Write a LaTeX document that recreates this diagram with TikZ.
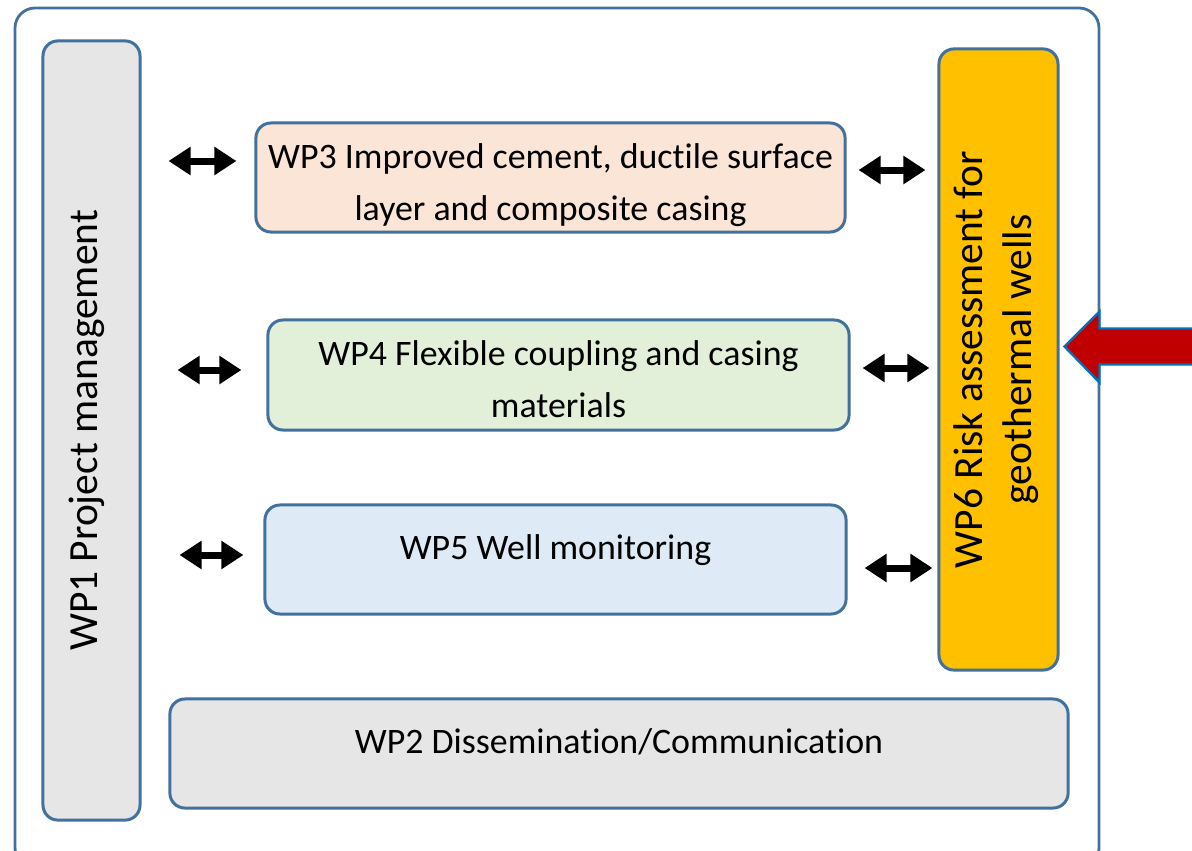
\documentclass[tikz,border=0pt]{standalone}
\usepackage{fontspec}
\setmainfont{Carlito}[Ligatures=NoCommon]
\usetikzlibrary{arrows.meta, calc}

\definecolor{wpline}{HTML}{41719C}
\definecolor{wpgrey}{HTML}{E6E6E6}
\definecolor{wporange}{HTML}{FBE5D6}
\definecolor{wpgreen}{HTML}{E2F0D9}
\definecolor{wpblue}{HTML}{DEEBF7}
\definecolor{wpgold}{HTML}{FFC000}
\definecolor{inred}{HTML}{C00000}
\definecolor{inblue}{HTML}{0070C0}

\begin{document}
\begin{tikzpicture}[
    x=0.025cm, y=-0.025cm,
    % Styles
    frame/.style={draw=wpline, line width=0.07cm, rounded corners=0.5cm, fill=white},
    wp/.style={
        draw=wpline, line width=0.075cm, rounded corners=0.375cm,
        inner sep=0pt, align=center
    },
    hlabel/.style={font=\fontsize{25.5}{37}\selectfont, align=center, inner sep=0pt},
    vlabel/.style={font=\fontsize{29.5}{35}\selectfont, rotate=90, align=center, inner sep=0pt},
    dbl/.style={
        line width=0.175cm,
        {Triangle[length=0.55cm, width=0.675cm]}-{Triangle[length=0.55cm, width=0.675cm]}
    },
    inarrow/.style={fill=inred, draw=inblue, line width=0.06cm, line join=miter}
  ]
    \clip (0,0) rectangle (1192,850);

    % --- Outer frame ---
    \draw[frame] (15,8) rectangle (1099,868);

    % --- Work packages ---
    \node (wp1) [wp, fill=wpgrey, minimum width=2.425cm, minimum height=19.475cm] at (91.5,430.5) {};
    \node (wp6) [wp, fill=wpgold, minimum width=2.975cm, minimum height=15.525cm] at (998.5,359.5) {};
    \node (wp3) [wp, fill=wporange, minimum width=14.725cm, minimum height=2.725cm] at (550.5,177.5) {};
    \node (wp4) [wp, fill=wpgreen, minimum width=14.525cm, minimum height=2.75cm] at (558.5,375) {};
    \node (wp5) [wp, fill=wpblue, minimum width=14.525cm, minimum height=2.725cm] at (555.5,559.5) {};
    \node (wp2) [wp, fill=wpgrey, minimum width=22.45cm, minimum height=2.725cm] at (619,753.5) {};

    % --- Labels ---
    \node[vlabel] at ([xshift=-0.12cm]wp1.center) {WP1 Project management};
    \node[vlabel] at ([xshift=-0.05cm]wp6.center) {WP6 Risk assessment for\\geothermal wells};
    \node[hlabel] at ([yshift=-0.2cm]wp3.center) {WP3 Improved cement, ductile surface\\layer and composite casing};
    \node[hlabel] at ([yshift=-0.1cm]wp4.center) {WP4 Flexible coupling and casing\\materials};
    \node[hlabel, anchor=base] at (wp5.center) {WP5 Well monitoring};
    \node[hlabel, anchor=base] at (wp2.center) {WP2 Dissemination/Communication};

    % --- Links to WP1 ---
    \draw[dbl, shorten <=0.675cm, shorten >=0.45cm] (wp1.east |- 0,161) -- (wp3.west |- 0,161);
    \draw[dbl, shorten <=0.9cm, shorten >=0.625cm] (wp1.east |- 0,370) -- (wp4.west |- 0,370);
    \draw[dbl, shorten <=0.95cm, shorten >=0.5cm] (wp1.east |- 0,555) -- (wp5.west |- 0,555);

    % --- Links to WP6 ---
    \draw[dbl, shorten <=0.3cm, shorten >=0.3cm] (wp3.east |- 0,170) -- (wp6.west |- 0,170);
    \draw[dbl, shorten <=0.3cm, shorten >=0.2cm] (wp4.east |- 0,368) -- (wp6.west |- 0,368);
    \draw[dbl, shorten <=0.425cm, shorten >=0.125cm] (wp5.east |- 0,568) -- (wp6.west |- 0,568);

    % --- Input into WP6 ---
    \draw[inarrow] ($(wp6.east)+(5,-13)$) -- ++(35,-35) -- ++(0,17) -- ++(120,0)
        -- ++(0,36) -- ++(-120,0) -- ++(0,18) -- cycle;

  \end{tikzpicture}
\end{document}
